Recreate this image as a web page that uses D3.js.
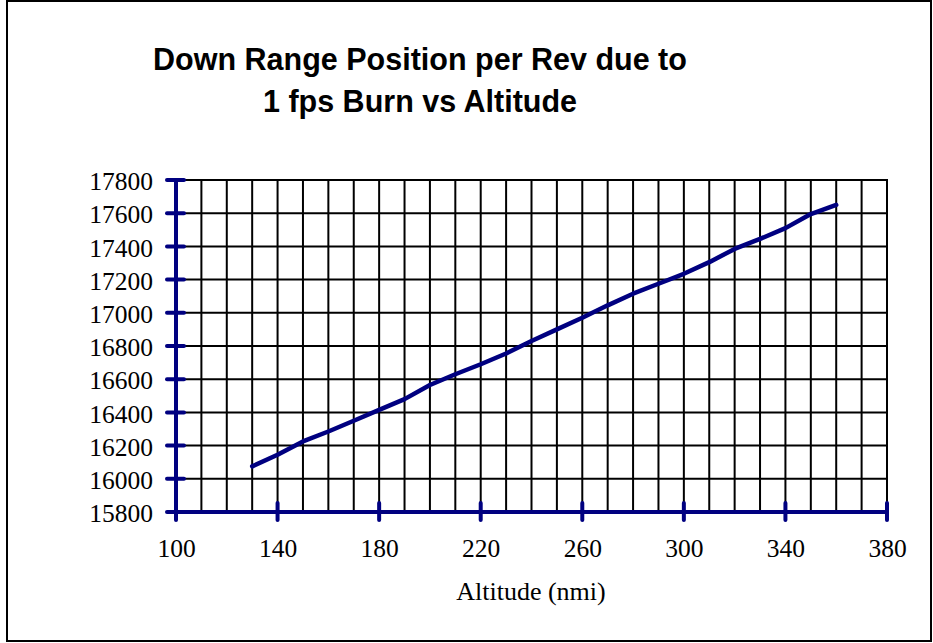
<!DOCTYPE html>
<html>
<head>
<meta charset="utf-8">
<script src="https://cdn.jsdelivr.net/npm/d3@7"></script>
<style>
  html, body { margin: 0; padding: 0; background: #fff; }
  svg { display: block; }
</style>
</head>
<body>
<svg id="chart" width="933" height="643"></svg>
<script>
// Altitude (nmi) and down-range position shift per rev for a 1 fps burn
const altitudes = [130, 140, 150, 160, 170, 180, 190, 200, 210, 220, 230, 240,
                   250, 260, 270, 280, 290, 300, 310, 320, 330, 340, 350, 360];
const downRange = [16075, 16145, 16225, 16285, 16350, 16415, 16480, 16565, 16630, 16690, 16755, 16830,
                   16900, 16970, 17045, 17115, 17175, 17235, 17305, 17385, 17445, 17510, 17595, 17650];

const xTicks = [100, 140, 180, 220, 260, 300, 340, 380];
const yTicks = [15800, 16000, 16200, 16400, 16600, 16800, 17000, 17200, 17400, 17600, 17800];
const xGrid = d3.range(110, 381, 10);
const titleLines = ["Down Range Position per Rev due to", "1 fps Burn vs Altitude"];
const xTitle = "Altitude (nmi)";

const svg = d3.select("#chart");
const navy = "#000080";
const serif = "'Liberation Serif', 'Times New Roman', serif";

// outer frame
svg.append("rect")
  .attr("x", 7).attr("y", 1).attr("width", 924).attr("height", 640)
  .attr("fill", "none").attr("stroke", "#000").attr("stroke-width", 2);

const x = d3.scaleLinear().domain([100, 380]).range([176, 887]);
const y = d3.scaleLinear().domain([15800, 17800]).range([512, 180]);

// grid
const grid = svg.append("g").attr("stroke", "#000").attr("stroke-width", 2);
grid.selectAll("line.v").data(xGrid).join("line")
  .attr("class", "v")
  .attr("x1", d => x(d)).attr("x2", d => x(d))
  .attr("y1", y(17800) - 1).attr("y2", y(15800));
grid.selectAll("line.h").data(yTicks.slice(1)).join("line")
  .attr("class", "h")
  .attr("x1", x(100)).attr("x2", x(380) + 1)
  .attr("y1", d => y(d)).attr("y2", d => y(d));

// axes: tick labels from d3 axes, navy lines with crossing ticks drawn on top
const yAxis = d3.axisLeft(y).tickValues(yTicks).tickSize(0).tickPadding(23)
  .tickFormat(d3.format("d"));
const gy = svg.append("g").attr("transform", `translate(${x(100)},0)`).call(yAxis);
gy.select(".domain").remove();
gy.selectAll("text")
  .attr("font-family", serif)
  .attr("font-size", 25.5).attr("fill", "#000")
  .attr("dy", "0.38em");

const xAxis = d3.axisBottom(x).tickValues(xTicks).tickSize(0)
  .tickFormat(d3.format("d"));
const gx = svg.append("g").attr("transform", `translate(0,${y(15800)})`).call(xAxis);
gx.select(".domain").remove();
gx.selectAll("text")
  .attr("font-family", serif)
  .attr("font-size", 25.5).attr("fill", "#000")
  .attr("y", 45).attr("dy", 0);

const axes = svg.append("g").attr("stroke", navy).attr("stroke-linecap", "round");
axes.append("line")
  .attr("x1", x(100)).attr("x2", x(100))
  .attr("y1", y(17800)).attr("y2", y(15800) + 8)
  .attr("stroke-width", 4);
axes.append("line")
  .attr("x1", x(100)).attr("x2", x(380))
  .attr("y1", y(15800)).attr("y2", y(15800))
  .attr("stroke-width", 4);
axes.selectAll("line.yt").data(yTicks).join("line")
  .attr("class", "yt")
  .attr("x1", x(100) - 9).attr("x2", x(100) + 8)
  .attr("y1", d => y(d)).attr("y2", d => y(d))
  .attr("stroke-width", 4);
axes.selectAll("line.xt").data(xTicks.slice(1)).join("line")
  .attr("class", "xt")
  .attr("x1", d => x(d)).attr("x2", d => x(d))
  .attr("y1", y(15800) - 9).attr("y2", y(15800) + 8)
  .attr("stroke-width", 4);

// data line
const line = d3.line().x((d, i) => x(altitudes[i])).y(d => y(d));
svg.append("path")
  .datum(downRange)
  .attr("d", line)
  .attr("fill", "none")
  .attr("stroke", navy)
  .attr("stroke-width", 4.5)
  .attr("stroke-linejoin", "round")
  .attr("stroke-linecap", "round");

// title
svg.append("g")
  .selectAll("text").data(titleLines).join("text")
  .attr("x", 420).attr("y", (d, i) => 70 + i * 42)
  .attr("text-anchor", "middle")
  .attr("font-family", "'Liberation Sans', Arial, sans-serif")
  .attr("font-weight", "bold")
  .attr("font-size", 30.5)
  .attr("fill", "#000")
  .text(d => d);

// x-axis title
svg.append("text")
  .attr("x", 531).attr("y", 600)
  .attr("text-anchor", "middle")
  .attr("font-family", serif)
  .attr("font-size", 26)
  .attr("fill", "#000")
  .text(xTitle);
</script>
</body>
</html>
